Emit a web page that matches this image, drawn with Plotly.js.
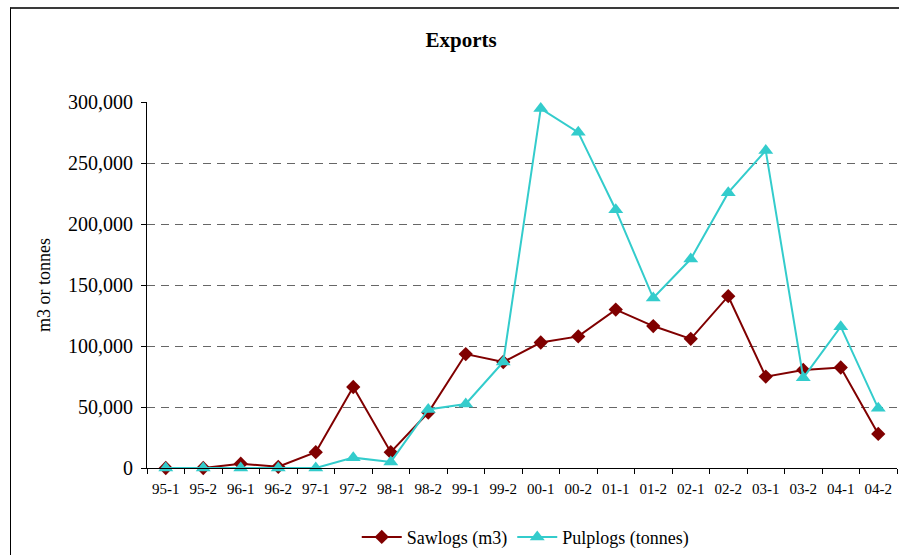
<!DOCTYPE html>
<html>
<head>
<meta charset="utf-8">
<script src="https://cdn.plot.ly/plotly-3.0.1.min.js"></script>
<style>
  html, body { margin: 0; padding: 0; background: #ffffff; }
  #wrap { position: relative; width: 899px; height: 555px; overflow: hidden; }
  #chart { width: 899px; height: 555px; }
  #frame { position: absolute; left: 10px; top: 7px; width: 900px; height: 560px;
           border-top: 2px solid #3a3a3a; border-left: 1px solid #000; pointer-events: none; }
</style>
</head>
<body>
<div id="wrap">
  <div id="chart"></div>
  <div id="frame"></div>
</div>
<script>
const categories = ["95-1","95-2","96-1","96-2","97-1","97-2","98-1","98-2","99-1","99-2",
                    "00-1","00-2","01-1","01-2","02-1","02-2","03-1","03-2","04-1","04-2"];
const sawlogs = [0, 0, 3500, 1000, 13000, 66500, 13000, 45500, 93500, 87000,
                 103000, 108000, 130000, 116500, 106000, 141000, 75000, 80500, 82500, 28000];
const pulplogs = [0, 0, 0, 0, 0, 8500, 5000, 48000, 52500, 87000,
                  295000, 275500, 212000, 139500, 171500, 226000, 260500, 74000, 116000, 49000];
const yTicks = [0, 50000, 100000, 150000, 200000, 250000, 300000];
const yTickText = ["0", "50,000", "100,000", "150,000", "200,000", "250,000", "300,000"];

const serif = "Liberation Serif";

const traces = [
  {
    x: categories, y: sawlogs, name: "Sawlogs (m3)", type: "scatter", mode: "lines+markers",
    line: { color: "#800000", width: 2 },
    marker: { symbol: "diamond", size: 11, color: "#800000" },
    cliponaxis: false
  },
  {
    x: categories, y: pulplogs, name: "Pulplogs (tonnes)", type: "scatter", mode: "lines+markers",
    line: { color: "#33CCCC", width: 2 },
    marker: { symbol: "triangle-up", size: 13, color: "#33CCCC" },
    cliponaxis: false
  }
];

const layout = {
  width: 899, height: 555,
  margin: { l: 147, r: 2, t: 102, b: 87, autoexpand: false },
  paper_bgcolor: "#ffffff", plot_bgcolor: "#ffffff",
  showlegend: true,
  font: { family: serif, color: "#000000" },
  title: {
    text: "<b>Exports</b>", font: { family: serif, size: 21, color: "#000" },
    x: 0.513, xref: "container", xanchor: "center",
    y: 1 - 40/555, yref: "container", yanchor: "middle"
  },
  xaxis: {
    type: "category", range: [-0.5, 19.5], automargin: false,
    showline: true, linecolor: "#000", linewidth: 1,
    ticks: "outside", ticklen: 5, tickcolor: "#000", tickson: "boundaries",
    showgrid: false, zeroline: false, ticklabelstandoff: 7,
    tickfont: { family: serif, size: 15, color: "#000" }
  },
  yaxis: {
    range: [0, 300400], tickvals: yTicks, ticktext: yTickText, automargin: false,
    showline: true, linecolor: "#000", linewidth: 1,
    ticks: "outside", ticklen: 5, tickcolor: "#000",
    showgrid: true, gridcolor: "#666666", griddash: "8px,6px", gridwidth: 1,
    zeroline: false,
    tickfont: { family: serif, size: 20, color: "#000" },
    ticklabelstandoff: 4,
    title: { text: "m3 or tonnes", font: { family: serif, size: 18, color: "#000" }, standoff: 12 }
  },
  legend: {
    orientation: "h", x: 0.505, xanchor: "center", y: -69/365, yanchor: "middle",
    font: { family: serif, size: 18, color: "#000" },
    bgcolor: "rgba(0,0,0,0)", itemwidth: 40
  }
};

Plotly.newPlot("chart", traces, layout, { displayModeBar: false, staticPlot: true });
</script>
</body>
</html>
